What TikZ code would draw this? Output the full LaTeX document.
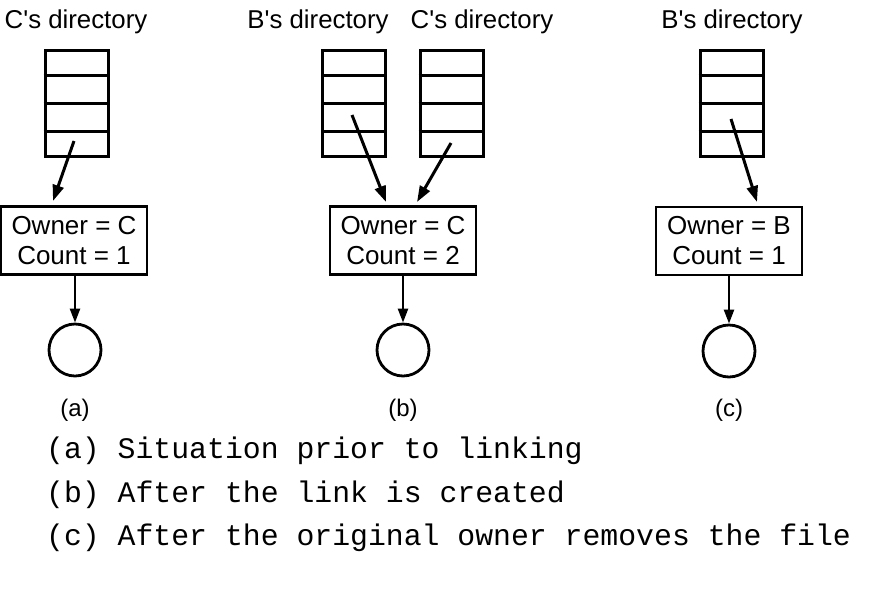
\documentclass[tikz,border=0pt]{standalone}
\usepackage{fontspec}
\setmainfont{Liberation Sans}[Ligatures=TeXOff]
\newfontfamily\monofnt{Liberation Mono}
\usetikzlibrary{arrows.meta}
\tikzset{
  dirbox/.style={draw, line width=3pt, minimum width=63pt, minimum height=106pt, inner sep=0pt},
  inode/.style={draw, line width=2.8pt, minimum width=146pt, minimum height=68pt, inner sep=0pt, align=center, font=\fontsize{26}{30}\selectfont},
  filec/.style={draw, line width=2.8pt, circle, minimum size=52pt, inner sep=0pt},
  dirlabel/.style={font=\fontsize{25.8}{30}\selectfont},
  sublabel/.style={font=\fontsize{24}{28}\selectfont},
  ptr/.style={line width=3pt, -{Triangle[length=16pt,width=11pt]}},
  dptr/.style={line width=2.4pt, -{Triangle[length=14pt,width=10pt]}},
  caption/.style={anchor=west, font=\monofnt\fontsize{29.8}{34}\selectfont, inner sep=0pt}
}
\newcommand{\dirrows}[1]{%
  \draw[line width=3pt] ([yshift=-26.5pt]#1.north west) -- ([yshift=-26.5pt]#1.north east);
  \draw[line width=3pt] (#1.west) -- (#1.east);
  \draw[line width=3pt] ([yshift=26.5pt]#1.south west) -- ([yshift=26.5pt]#1.south east);
}
\begin{document}
\begin{tikzpicture}[x=1pt,y=-1pt]
\useasboundingbox (0,0) rectangle (885,592);

% ---------- (a) ----------
\node[dirlabel] (lblA) at (76,22) {C's directory};
\node[dirbox] (dirA) at (76.5,103) {};
\dirrows{dirA}
\node[inode] (inA) at (74,240.5) {Owner = C\\Count = 1};
\node[filec] (fA) at (75,350) {};
\node[sublabel] (capA) at (75,410) {(a)};
\coordinate (sA) at (74,141);
\coordinate (tA) at (53,201);
\draw[ptr] (sA) -- (tA);
\draw[dptr] (inA.south -| fA) -- (fA.north);

% ---------- (b) ----------
\node[dirlabel] (lblB1) at (318,22) {B's directory};
\node[dirlabel] (lblB2) at (482,22) {C's directory};
\node[dirbox] (dirB1) at (354,103) {};
\dirrows{dirB1}
\node[dirbox] (dirB2) at (451.5,103) {};
\dirrows{dirB2}
\node[inode] (inB) at (403,240.5) {Owner = C\\Count = 2};
\node[filec] (fB) at (403,350) {};
\node[sublabel] (capB) at (403,410) {(b)};
\coordinate (sB1) at (352,115);
\coordinate (tB1) at (386,202);
\coordinate (sB2) at (451,143);
\coordinate (tB2) at (417,202);
\draw[ptr] (sB1) -- (tB1);
\draw[ptr] (sB2) -- (tB2);
\draw[dptr] (inB.south -| fB) -- (fB.north);

% ---------- (c) ----------
\node[dirlabel] (lblC) at (732,22) {B's directory};
\node[dirbox] (dirC) at (731.5,103) {};
\dirrows{dirC}
\node[inode] (inC) at (729,241) {Owner = B\\Count = 1};
\node[filec] (fC) at (729,351) {};
\node[sublabel] (capC) at (729,410) {(c)};
\coordinate (sC) at (731,119);
\coordinate (tC) at (757,202);
\draw[ptr] (sC) -- (tC);
\draw[dptr] (inC.south -| fC) -- (fC.north);

% ---------- captions ----------
\node[caption] (c1) at (46,451) {(a) Situation prior to linking};
\node[caption] (c2) at (46,495) {(b) After the link is created};
\node[caption] (c3) at (46,538) {(c) After the original owner removes the file};
\end{tikzpicture}
\end{document}
